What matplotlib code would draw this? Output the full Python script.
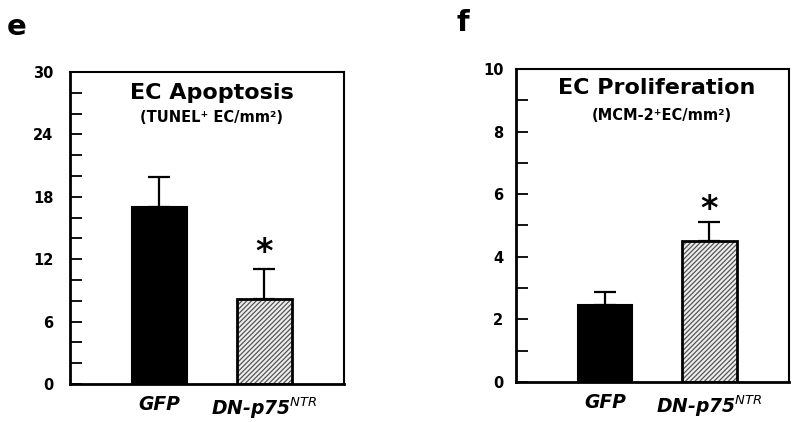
import matplotlib.pyplot as plt
from matplotlib.ticker import MultipleLocator

plt.rcParams['font.family'] = 'DejaVu Sans'
plt.rcParams['mathtext.fontset'] = 'dejavusans'
plt.rcParams['hatch.linewidth'] = 0.9

# data
groups = ['GFP', 'DN-p75$^{NTR}$']
apoptosis = [17.0, 8.2]
apoptosis_err = [2.9, 2.9]
prolif = [2.45, 4.5]
prolif_err = [0.42, 0.6]

fig = plt.figure(figsize=(8, 4.22), dpi=100)
ax1 = fig.add_axes([0.0875, 0.090, 0.3425, 0.7394])
ax2 = fig.add_axes([0.645, 0.0948, 0.341, 0.7417])


def draw_panel(ax, vals, errs, ymax, major, minor, title, sub, tx, sx, star_y, pad):
    x = [0, 1]
    w = 0.52
    # black GFP bar
    ax.bar(x[0], vals[0], width=w, color='black', edgecolor='black', linewidth=1.5, zorder=2)
    # hatched bar
    ax.bar(x[1], vals[1], width=w, color='#eeeeee', edgecolor='#555555', hatch='///////',
           linewidth=0, zorder=2)
    ax.bar(x[1], vals[1], width=w, color='none', edgecolor='black', linewidth=2, zorder=3)
    ax.errorbar(x, vals, yerr=[[0, 0], errs], fmt='none', ecolor='black',
                elinewidth=1.6, capsize=8, capthick=1.6, zorder=1)
    ax.set_xlim(-0.85, 1.76)
    ax.set_ylim(0, ymax)
    ax.yaxis.set_major_locator(MultipleLocator(major))
    ax.yaxis.set_minor_locator(MultipleLocator(minor))
    ax.tick_params(axis='y', which='both', direction='in', length=8.5, width=1.3,
                   labelsize=10.5, pad=pad)
    for lab in ax.get_yticklabels():
        lab.set_fontweight('bold')
    ax.set_xticks(x)
    ax.set_xticklabels(groups, fontsize=13.5, fontweight='bold', fontstyle='italic')
    ax.tick_params(axis='x', length=0, pad=8)
    for s in ax.spines.values():
        s.set_linewidth(1.5)
    ax.spines['left'].set_linewidth(2)
    ax.spines['bottom'].set_linewidth(2)
    ax.text(tx, title[1], title[0], transform=ax.transAxes, ha='center', va='center',
            fontsize=16, fontweight='bold')
    ax.text(sx, sub[1], sub[0], transform=ax.transAxes, ha='center', va='center',
            fontsize=10.5, fontweight='bold')
    ax.text(1, star_y, '*', ha='center', va='center', fontsize=24, fontweight='bold')


draw_panel(ax1, apoptosis, apoptosis_err, 30, 6, 2,
           ('EC Apoptosis', 0.933), ('(TUNEL\u207a EC/mm\u00b2)', 0.853),
           0.518, 0.518, 12.6, 12)
draw_panel(ax2, prolif, prolif_err, 10, 2, 1,
           ('EC Proliferation', 0.939), ('(MCM-2\u207aEC/mm\u00b2)', 0.853),
           0.516, 0.535, 5.5, 9)

fig.text(0.021, 0.935, 'e', fontsize=21, fontweight='bold', ha='center', va='center')
fig.text(0.578, 0.945, 'f', fontsize=21, fontweight='bold', ha='center', va='center')

fig.savefig('out.png', dpi=100)
